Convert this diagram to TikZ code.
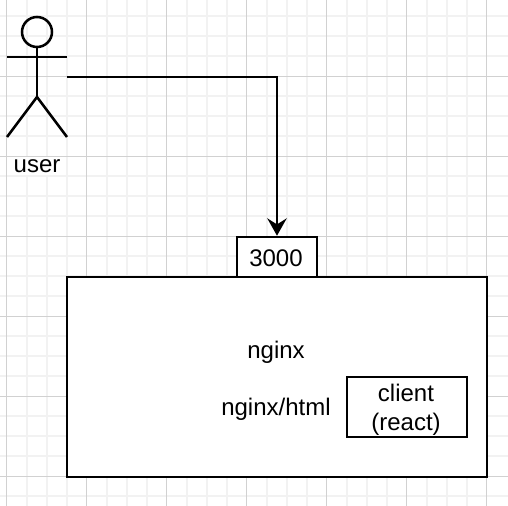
\documentclass[tikz,border=0pt]{standalone}
\usepackage{fontspec}
\setmainfont{Liberation Sans}
\usetikzlibrary{arrows.meta}
\tikzset{
  x=0.75pt,y=-0.75pt,
  minorgrid/.style={draw=black!5,line width=1.5pt},
  majorgrid/.style={draw=black!18,line width=0.75pt},
  stroke/.style={draw=black,line width=1.9pt},
  boxnode/.style={stroke,fill=white,rectangle,inner sep=0pt,font=\fontsize{18pt}{21.6pt}\selectfont,align=center},
  plain/.style={inner sep=0pt,font=\fontsize{18pt}{21.6pt}\selectfont,align=center},
}
\begin{document}
\begin{tikzpicture}
\useasboundingbox (0,0) rectangle (508,506);
\fill[white] (0,0) rectangle (508,506);
% grid
\foreach \gx in {26.5,46.5,66.5,106.5,126.5,146.5,186.5,206.5,226.5,266.5,286.5,306.5,346.5,366.5,386.5,426.5,446.5,466.5}
  \draw[minorgrid] (\gx,0) -- (\gx,506);
\foreach \gy in {16.5,36.5,56.5,96.5,116.5,136.5,176.5,196.5,216.5,256.5,276.5,296.5,336.5,356.5,376.5,416.5,436.5,456.5,496.5}
  \draw[minorgrid] (0,\gy) -- (508,\gy);
\foreach \gx in {6.5,86.5,166.5,246.5,326.5,406.5,486.5}
  \draw[majorgrid] (\gx,0) -- (\gx,506);
\foreach \gy in {76.5,156.5,236.5,316.5,396.5,476.5}
  \draw[majorgrid] (0,\gy) -- (508,\gy);
% actor
\node[inner sep=0pt,minimum width=45pt,minimum height=90pt] (actor) at (37,77) {};
\draw[stroke] (37,32) circle[radius=15];
\draw[stroke] (37,47) -- (37,97);
\draw[stroke] (7,57) -- (67,57);
\draw[stroke,line join=miter] (7,137) -- (37,97) -- (67,137);
\node[plain,fill=white,minimum width=34.5pt,minimum height=14pt] (userlabel) at (37,166) {user};
% boxes
\node[boxnode,minimum width=315pt,minimum height=150pt] (main) at (277,377) {};
\node[boxnode,minimum width=60pt,minimum height=30pt] (port) at (277,257) {};
\node[plain] (porttext) at (276,258) {3000};
\node[plain] (ng) at (276,352) {nginx};
\node[plain] (html) at (276,409) {nginx/html};
\node[boxnode,minimum width=90pt,minimum height=45pt] (client) at (407,407) {};
\node[plain] (clienttext) at (406,410) {client\\(react)};
% connector
\draw[stroke,-{Stealth[length=13pt,width=14.5pt,inset=4.5pt]}] (actor.east) -| (port.north);
\end{tikzpicture}
\end{document}
